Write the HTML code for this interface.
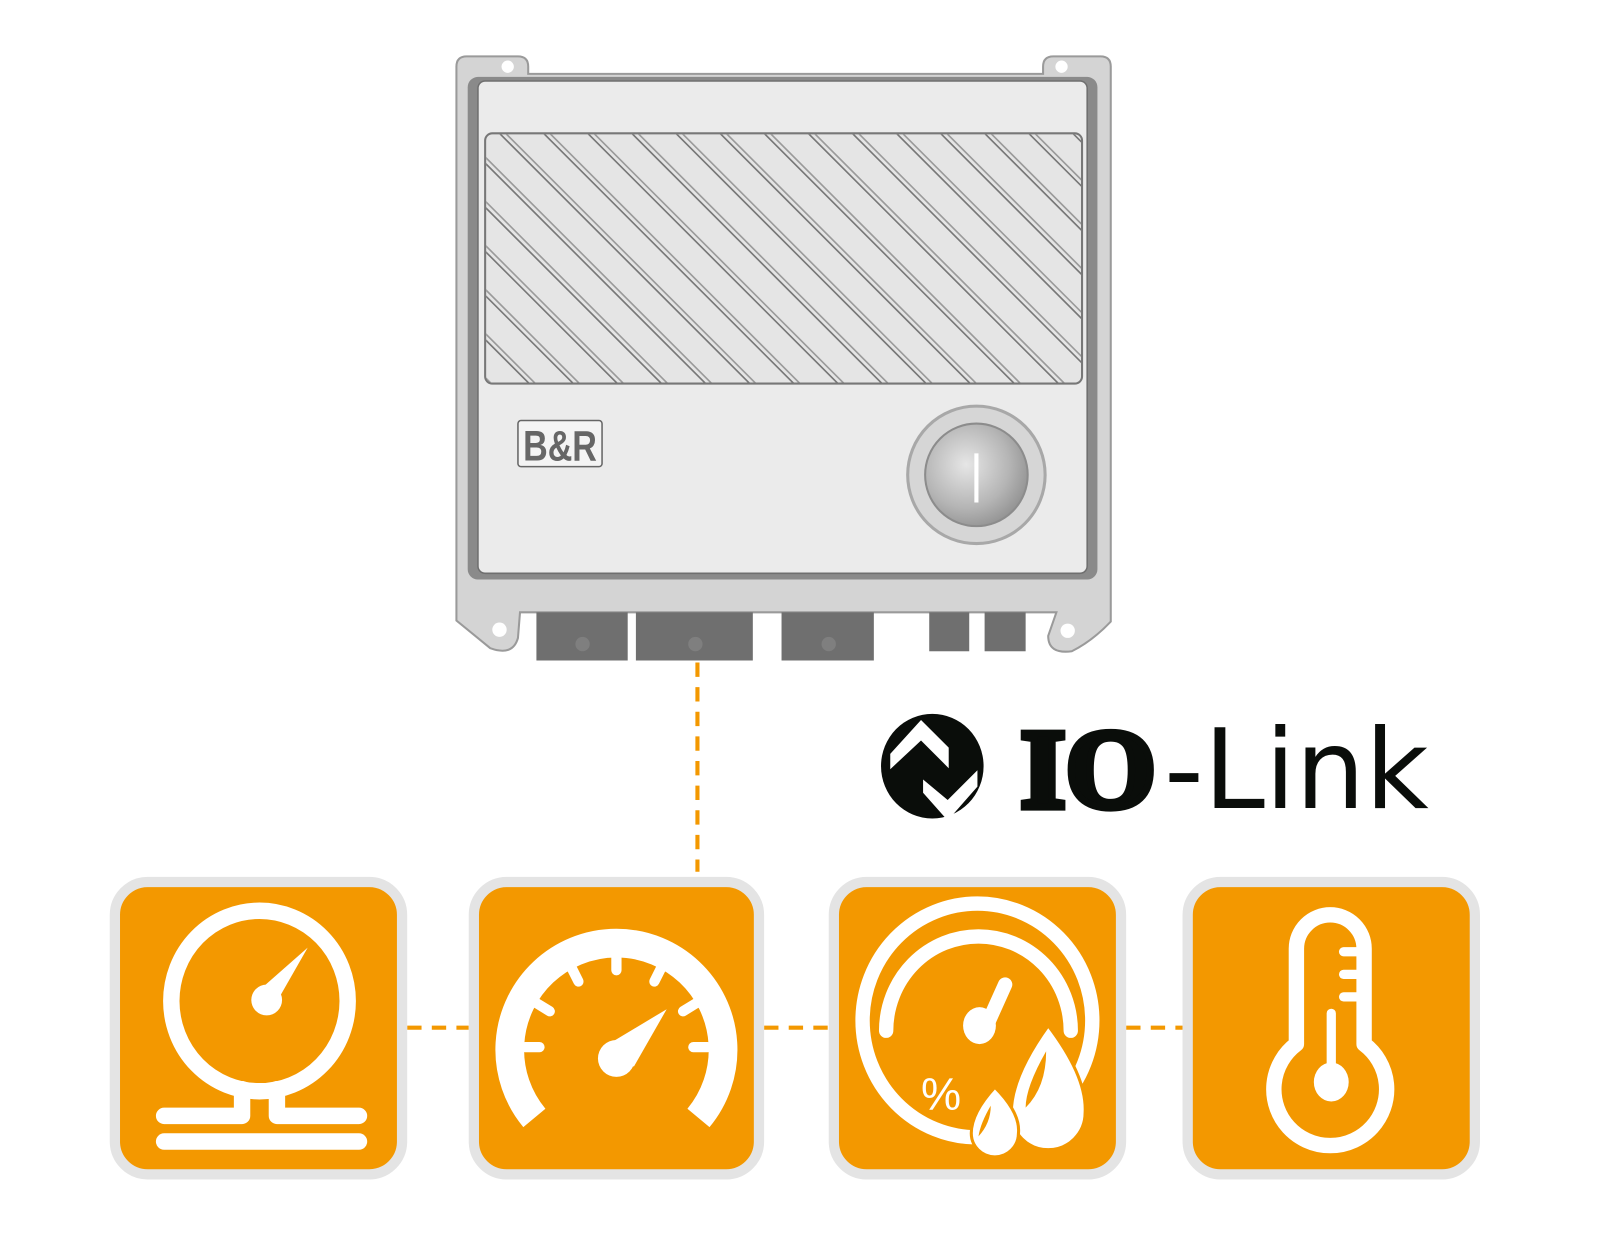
<!DOCTYPE html>
<html><head><meta charset="utf-8"><style>
html,body{margin:0;padding:0;background:#fff;width:1600px;height:1257px;overflow:hidden}
svg{display:block}
</style></head><body>
<svg width="1600" height="1257" viewBox="0 0 1560 1225.6" xmlns="http://www.w3.org/2000/svg">
<defs>
<clipPath id="hc"><rect x="474" y="131" width="580" height="242" rx="6"/></clipPath>
<radialGradient id="btn" cx="0.4" cy="0.4" r="0.7">
<stop offset="0" stop-color="#e6e6e6"/><stop offset="0.6" stop-color="#b5b5b5"/><stop offset="1" stop-color="#8a8a8a"/></radialGradient>
</defs>
<path d="M455 55 H505 Q515 55 515 65 V72 H1017 V65 Q1017 55 1027 55 H1073 Q1083 55 1083 65 V600 L1083 606 Q1065 625 1045 635 Q1022 638 1022 620 L1030 597 H507 L505 622 Q500 640 478 632 L445 605 V65 Q445 55 455 55 Z" fill="#d4d4d4" stroke="#9a9a9a" stroke-width="2"/>
<circle cx="495" cy="65" r="6" fill="#fff"/><circle cx="1035" cy="65" r="6" fill="#fff"/>
<circle cx="487" cy="614" r="7" fill="#fff"/><circle cx="1041" cy="615" r="7" fill="#fff"/>
<rect x="456" y="75" width="614" height="490" rx="10" fill="#8a8a8a"/>
<rect x="466" y="79" width="594" height="480" rx="7" fill="#ebebeb" stroke="#6f6f6f" stroke-width="1.5"/>
<rect x="473" y="130" width="582" height="244" rx="7" fill="#e5e5e5" stroke="#777" stroke-width="2"/>
<g clip-path="url(#hc)" stroke-width="1.6">
<g stroke="#777">
<line x1="229" y1="130" x2="473" y2="374"/><line x1="272" y1="130" x2="516" y2="374"/><line x1="315" y1="130" x2="559" y2="374"/><line x1="358" y1="130" x2="602" y2="374"/><line x1="401" y1="130" x2="645" y2="374"/><line x1="444" y1="130" x2="688" y2="374"/><line x1="487" y1="130" x2="731" y2="374"/><line x1="530" y1="130" x2="774" y2="374"/><line x1="573" y1="130" x2="817" y2="374"/><line x1="616" y1="130" x2="860" y2="374"/><line x1="659" y1="130" x2="903" y2="374"/><line x1="702" y1="130" x2="946" y2="374"/><line x1="745" y1="130" x2="989" y2="374"/><line x1="788" y1="130" x2="1032" y2="374"/><line x1="831" y1="130" x2="1075" y2="374"/><line x1="874" y1="130" x2="1118" y2="374"/><line x1="917" y1="130" x2="1161" y2="374"/><line x1="960" y1="130" x2="1204" y2="374"/><line x1="1003" y1="130" x2="1247" y2="374"/><line x1="1046" y1="130" x2="1290" y2="374"/>
</g>
<g stroke="#9a9a9a" transform="translate(6,0)">
<line x1="229" y1="130" x2="473" y2="374"/><line x1="272" y1="130" x2="516" y2="374"/><line x1="315" y1="130" x2="559" y2="374"/><line x1="358" y1="130" x2="602" y2="374"/><line x1="401" y1="130" x2="645" y2="374"/><line x1="444" y1="130" x2="688" y2="374"/><line x1="487" y1="130" x2="731" y2="374"/><line x1="530" y1="130" x2="774" y2="374"/><line x1="573" y1="130" x2="817" y2="374"/><line x1="616" y1="130" x2="860" y2="374"/><line x1="659" y1="130" x2="903" y2="374"/><line x1="702" y1="130" x2="946" y2="374"/><line x1="745" y1="130" x2="989" y2="374"/><line x1="788" y1="130" x2="1032" y2="374"/><line x1="831" y1="130" x2="1075" y2="374"/><line x1="874" y1="130" x2="1118" y2="374"/><line x1="917" y1="130" x2="1161" y2="374"/><line x1="960" y1="130" x2="1204" y2="374"/><line x1="1003" y1="130" x2="1247" y2="374"/><line x1="1046" y1="130" x2="1290" y2="374"/>
</g></g>
<rect x="505" y="410" width="82" height="45" rx="3" fill="#f4f4f4" stroke="#666" stroke-width="1.5"/>
<text x="546" y="449" text-anchor="middle" font-family="Liberation Sans, sans-serif" font-weight="bold" font-size="42" fill="#666" textLength="72" lengthAdjust="spacingAndGlyphs">B&amp;R</text>
<circle cx="952" cy="463" r="67" fill="#d6d6d6" stroke="#a8a8a8" stroke-width="3"/>
<circle cx="952" cy="463" r="50" fill="url(#btn)" stroke="#8c8c8c" stroke-width="2"/>
<line x1="952" y1="442" x2="952" y2="490" stroke="#fff" stroke-width="4"/>
<g fill="#6f6f6f">
<rect x="523" y="597" width="89" height="47"/><rect x="620" y="597" width="114" height="47"/><rect x="762" y="597" width="90" height="47"/>
<rect x="906" y="597" width="39" height="38"/><rect x="960" y="597" width="40" height="38"/>
</g>
<g fill="#7f7f7f"><circle cx="568" cy="628" r="7"/><circle cx="678" cy="628" r="7"/><circle cx="808" cy="628" r="7"/></g>
<g stroke="#f39800" stroke-width="4" stroke-dasharray="14 10" fill="none">
<line x1="680" y1="646" x2="680" y2="850"/>
<line x1="397" y1="1002" x2="457" y2="1002"/>
<line x1="745" y1="1002" x2="808" y2="1002"/>
<line x1="1098" y1="1002" x2="1153" y2="1002"/>
</g>
<ellipse cx="909" cy="747" rx="50" ry="51" fill="#0a0d0a"/>
<path d="M868 735 L898 702 L925 729 L925 749 L898 722 L868 750 Z" fill="#fff"/>
<path d="M900 760 L900 773 L924 800 L953 767 L953 751 L924 780 Z" fill="#fff"/>
<text x="995" y="787" font-family="Liberation Serif, serif" font-weight="bold" font-size="110" fill="#0a0d0a" stroke="#0a0d0a" stroke-width="7" textLength="132" lengthAdjust="spacingAndGlyphs">IO</text>
<text x="1135" y="788" font-family="DejaVu Sans, Liberation Sans, sans-serif" font-size="108" fill="#0a0d0a" textLength="258" lengthAdjust="spacingAndGlyphs">-Link</text>
<g fill="#f39800" stroke="#e4e4e4" stroke-width="10">
<rect x="112" y="860" width="280" height="285" rx="32"/>
<rect x="462" y="860" width="278" height="285" rx="32"/>
<rect x="813" y="860" width="280" height="285" rx="32"/>
<rect x="1158" y="860" width="280" height="285" rx="32"/>
</g>
<g fill="none" stroke="#fff" stroke-width="16" stroke-linecap="round">
<ellipse cx="253" cy="976" rx="86" ry="88"/>
<path d="M160 1088 H236 V1062 M350 1088 H270 V1062" stroke-linejoin="round"/>
<line x1="160" y1="1113" x2="350" y2="1113"/>
</g>
<circle cx="260" cy="975" r="15" fill="#fff"/>
<path d="M250 968 L300 924 L268 980 Z" fill="#fff"/>
<path d="M521 1090 A104 104 0 1 1 681 1090" fill="none" stroke="#fff" stroke-width="28"/>
<g stroke="#fff" stroke-width="10" stroke-linecap="round">
<line x1="601" y1="931" x2="601" y2="946"/><line x1="557" y1="943" x2="564" y2="957"/><line x1="645" y1="943" x2="638" y2="957"/>
<line x1="523" y1="978" x2="536" y2="986"/><line x1="679" y1="978" x2="666" y2="986"/>
<line x1="512" y1="1021" x2="526" y2="1021"/><line x1="690" y1="1021" x2="676" y2="1021"/>
</g>
<circle cx="601" cy="1032" r="18" fill="#fff"/>
<path d="M590 1020 L650 984 L618 1040 Z" fill="#fff"/>
<g fill="none" stroke="#fff" stroke-width="14" stroke-linecap="round">
<ellipse cx="953" cy="995" rx="112" ry="114"/>
<path d="M864 1005 A90 92 0 1 1 1044 1005"/>
<line x1="962" y1="1000" x2="980" y2="960"/>
</g>
<ellipse cx="955" cy="1000" rx="16" ry="18" fill="#fff"/>
<text x="898" y="1082" font-family="Liberation Sans, sans-serif" font-size="44" fill="#fff">%</text>
<path d="M1022 1000 Q1060 1050 1058 1085 A36 36 0 0 1 986 1085 Q986 1050 1022 1000 Z" fill="#fff" stroke="#f39800" stroke-width="3"/>
<path d="M1020 1025 Q1000 1060 1000 1080 Q1020 1060 1020 1025 Z" fill="#f39800"/>
<path d="M970 1060 Q995 1085 993 1105 A23 23 0 0 1 947 1105 Q947 1085 970 1060 Z" fill="#fff" stroke="#f39800" stroke-width="3"/>
<path d="M966 1078 Q956 1095 954 1108 Q966 1095 966 1078 Z" fill="#f39800"/>
<path d="M1264 1018 V925 A33 33 0 0 1 1330 925 V1018 A55 55 0 1 1 1264 1018 Z" fill="none" stroke="#fff" stroke-width="15" stroke-linejoin="round"/>
<line x1="1298" y1="988" x2="1298" y2="1050" stroke="#fff" stroke-width="9" stroke-linecap="round"/>
<ellipse cx="1298" cy="1055" rx="17" ry="19" fill="#fff"/>
<g stroke="#fff" stroke-width="9" stroke-linecap="round">
<line x1="1310" y1="928" x2="1330" y2="928"/><line x1="1310" y1="950" x2="1330" y2="950"/><line x1="1310" y1="972" x2="1330" y2="972"/>
</g>
</svg>
</body></html>
